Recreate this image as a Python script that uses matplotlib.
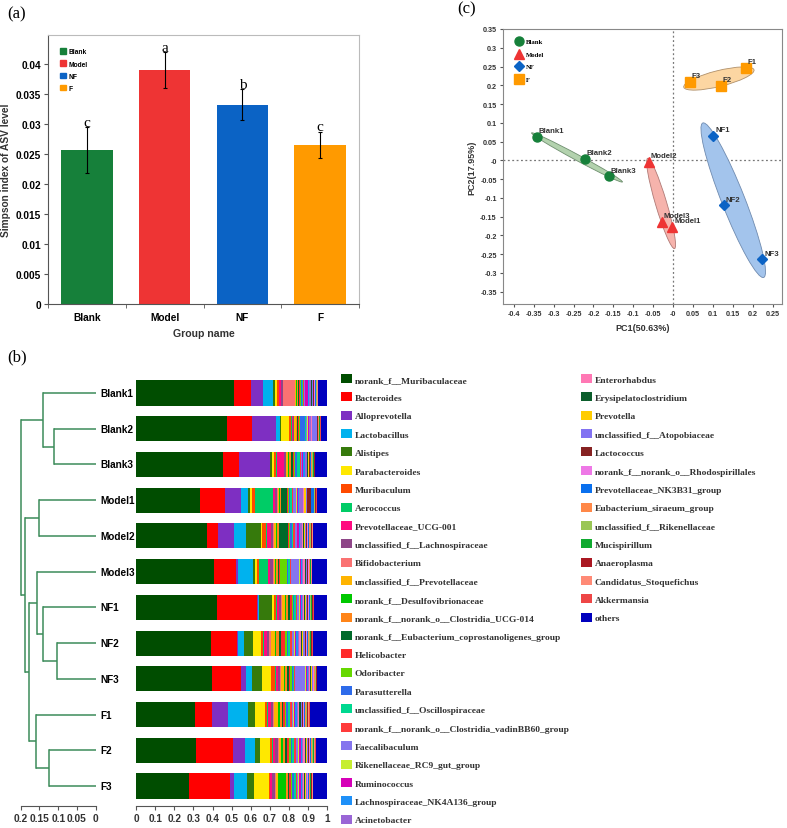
import numpy as np
import matplotlib
matplotlib.use("Agg")
import matplotlib.pyplot as plt
from matplotlib.patches import Ellipse, Patch
from matplotlib.lines import Line2D
from matplotlib.ticker import FuncFormatter
from matplotlib.font_manager import FontProperties

plt.rcParams['font.family'] = ['Liberation Sans', 'DejaVu Sans']
plt.rcParams['font.weight'] = 'bold'
plt.rcParams['axes.labelweight'] = 'bold'

# ---- (a) Simpson index ----
groups = ["Blank", "Model", "NF", "F"]
simpson = [0.0257, 0.0390, 0.0332, 0.0265]
simpson_err = [0.0038, 0.0030, 0.0026, 0.0022]
sig_letters = ["c", "a", "b", "c"]
group_colors = ["#16803A", "#EE3434", "#0B63C5", "#FF9A00"]

# ---- (c) PCoA ----
pc_names = ["Blank1", "Blank2", "Blank3", "Model1", "Model2", "Model3",
            "NF1", "NF2", "NF3", "F1", "F2", "F3"]
pc1 = [-0.341, -0.221, -0.162, -0.002, -0.060, -0.029,
       0.101, 0.127, 0.224, 0.183, 0.119, 0.042]
pc2 = [0.062, 0.004, -0.043, -0.177, -0.004, -0.164,
       0.065, -0.120, -0.264, 0.246, 0.199, 0.209]
pc_group = [0, 0, 0, 1, 1, 1, 2, 2, 2, 3, 3, 3]
pc_markers = ["o", "^", "D", "s"]
ell_fill = ["#B3D2AE", "#F6B3AC", "#A3C4EC", "#FCD6A2"]
ell_edge = ["#6F8F6F", "#B07A76", "#6F8BB0", "#B0906A"]

# ---- (b) community barplot + tree ----
sample_names = ["Blank1", "Blank2", "Blank3", "Model1", "Model2", "Model3",
                "NF1", "NF2", "NF3", "F1", "F2", "F3"]
taxa = ["norank_f__Muribaculaceae", "Bacteroides", "Alloprevotella", "Lactobacillus",
        "Alistipes", "Parabacteroides", "Muribaculum", "Aerococcus",
        "Prevotellaceae_UCG-001", "unclassified_f__Lachnospiraceae", "Bifidobacterium",
        "unclassified_f__Prevotellaceae", "norank_f__Desulfovibrionaceae",
        "norank_f__norank_o__Clostridia_UCG-014", "norank_f__Eubacterium_coprostanoligenes_group",
        "Helicobacter", "Odoribacter", "Parasutterella", "unclassified_f__Oscillospiraceae",
        "norank_f__norank_o__Clostridia_vadinBB60_group", "Faecalibaculum",
        "Rikenellaceae_RC9_gut_group", "Ruminococcus", "Lachnospiraceae_NK4A136_group",
        "Acinetobacter", "Enterorhabdus", "Erysipelatoclostridium", "Prevotella",
        "unclassified_f__Atopobiaceae", "Lactococcus", "norank_f__norank_o__Rhodospirillales",
        "Prevotellaceae_NK3B31_group", "Eubacterium_siraeum_group",
        "unclassified_f__Rikenellaceae", "Mucispirillum", "Anaeroplasma",
        "Candidatus_Stoquefichus", "Akkermansia", "others"]
taxa_colors = ["#004D00", "#FF0000", "#7E2FC2", "#00B2EE", "#367A0C", "#FFE800",
               "#FF4A00", "#00CC66", "#FF0A80", "#8E4688", "#FA7272", "#FFB400",
               "#00C800", "#FF8418", "#006A2A", "#FF2B2B", "#66D800", "#2E6BEA",
               "#00D890", "#FF3B3B", "#8575EE", "#C6EE30", "#D600B8", "#1E90F8",
               "#9A66D6", "#FF78B4", "#0B5E2C", "#FFCC00", "#8272F2", "#862222",
               "#EE78E6", "#0A70EE", "#FF8848", "#9AC656", "#10AA30", "#AA1822",
               "#FF8A76", "#EE4646", "#0000BE"]

blank1 = [0.510, 0.090, 0.060, 0.057, 0.010, 0.010, 0.007, 0.003, 0.010, 0.010, 0.060, 0.010,
          0.004, 0.006, 0.005, 0.004, 0.003, 0.008, 0.003, 0.004, 0.006, 0.002, 0.015, 0.004,
          0.010, 0.003, 0.002, 0.004, 0.006, 0.003, 0.004, 0.005, 0.002, 0.002, 0.002, 0.002,
          0.002, 0.003, 0.047]
blank2 = [0.486, 0.130, 0.130, 0.022, 0.005, 0.043, 0.010, 0.004, 0.006, 0.005, 0.004, 0.006,
          0.003, 0.006, 0.005, 0.004, 0.003, 0.030, 0.004, 0.003, 0.005, 0.002, 0.004, 0.004,
          0.008, 0.004, 0.002, 0.003, 0.025, 0.002, 0.002, 0.003, 0.002, 0.002, 0.002, 0.002,
          0.002, 0.002, 0.035]
blank3 = [0.460, 0.088, 0.162, 0.005, 0.010, 0.010, 0.010, 0.005, 0.035, 0.010, 0.005, 0.008,
          0.006, 0.010, 0.008, 0.010, 0.005, 0.008, 0.015, 0.005, 0.005, 0.003, 0.006, 0.012,
          0.006, 0.004, 0.003, 0.004, 0.004, 0.002, 0.003, 0.006, 0.004, 0.006, 0.004, 0.002,
          0.002, 0.002, 0.064]
model1 = [0.328, 0.130, 0.083, 0.035, 0.008, 0.010, 0.015, 0.093, 0.010, 0.010, 0.004, 0.006,
          0.005, 0.008, 0.030, 0.006, 0.005, 0.006, 0.006, 0.005, 0.020, 0.003, 0.004, 0.005,
          0.020, 0.004, 0.003, 0.010, 0.004, 0.020, 0.003, 0.012, 0.003, 0.003, 0.003, 0.002,
          0.002, 0.002, 0.055]
model2 = [0.362, 0.057, 0.081, 0.060, 0.078, 0.008, 0.017, 0.005, 0.020, 0.010, 0.006, 0.010,
          0.006, 0.012, 0.043, 0.008, 0.006, 0.008, 0.008, 0.006, 0.010, 0.004, 0.008, 0.006,
          0.008, 0.006, 0.004, 0.008, 0.006, 0.004, 0.004, 0.004, 0.006, 0.004, 0.004, 0.003,
          0.003, 0.003, 0.072]
model3 = [0.400, 0.117, 0.010, 0.074, 0.010, 0.015, 0.010, 0.043, 0.010, 0.015, 0.006, 0.008,
          0.006, 0.008, 0.006, 0.006, 0.035, 0.006, 0.008, 0.005, 0.043, 0.004, 0.005, 0.005,
          0.006, 0.010, 0.003, 0.004, 0.005, 0.004, 0.003, 0.003, 0.003, 0.003, 0.003, 0.002,
          0.002, 0.002, 0.078]
nf1 = [0.426, 0.212, 0.005, 0.010, 0.064, 0.015, 0.010, 0.006, 0.010, 0.010, 0.006, 0.012,
       0.008, 0.012, 0.008, 0.010, 0.006, 0.008, 0.008, 0.008, 0.008, 0.005, 0.006, 0.006,
       0.005, 0.005, 0.004, 0.006, 0.006, 0.004, 0.006, 0.004, 0.004, 0.004, 0.004, 0.003,
       0.003, 0.003, 0.072]
nf2 = [0.383, 0.134, 0.005, 0.030, 0.047, 0.040, 0.010, 0.006, 0.015, 0.012, 0.010, 0.020,
       0.008, 0.015, 0.010, 0.020, 0.008, 0.008, 0.008, 0.012, 0.008, 0.006, 0.008, 0.008,
       0.006, 0.008, 0.005, 0.008, 0.008, 0.005, 0.006, 0.005, 0.006, 0.005, 0.004, 0.004,
       0.004, 0.004, 0.072]
nf3 = [0.397, 0.150, 0.028, 0.030, 0.052, 0.048, 0.020, 0.006, 0.010, 0.008, 0.008, 0.015,
       0.006, 0.010, 0.008, 0.010, 0.006, 0.006, 0.008, 0.006, 0.052, 0.004, 0.005, 0.005,
       0.005, 0.004, 0.006, 0.004, 0.004, 0.003, 0.003, 0.004, 0.003, 0.003, 0.003, 0.002,
       0.002, 0.002, 0.052]
f1 = [0.305, 0.086, 0.086, 0.100, 0.038, 0.052, 0.010, 0.005, 0.015, 0.010, 0.005, 0.020,
      0.012, 0.010, 0.006, 0.008, 0.010, 0.008, 0.010, 0.008, 0.006, 0.008, 0.006, 0.008,
      0.006, 0.005, 0.008, 0.004, 0.004, 0.004, 0.004, 0.008, 0.004, 0.004, 0.003, 0.003,
      0.003, 0.006, 0.091]
f2 = [0.314, 0.191, 0.064, 0.052, 0.026, 0.052, 0.010, 0.006, 0.010, 0.015, 0.006, 0.010,
      0.010, 0.010, 0.008, 0.010, 0.012, 0.008, 0.010, 0.010, 0.008, 0.008, 0.008, 0.008,
      0.006, 0.006, 0.006, 0.008, 0.006, 0.004, 0.004, 0.006, 0.006, 0.004, 0.004, 0.003,
      0.003, 0.004, 0.060]
f3 = [0.276, 0.219, 0.019, 0.070, 0.033, 0.078, 0.005, 0.005, 0.006, 0.020, 0.005, 0.008,
      0.045, 0.008, 0.006, 0.008, 0.008, 0.008, 0.010, 0.006, 0.008, 0.006, 0.006, 0.008,
      0.005, 0.005, 0.005, 0.004, 0.004, 0.004, 0.004, 0.004, 0.004, 0.004, 0.006, 0.003,
      0.003, 0.003, 0.074]

# hierarchical clustering: (child a, child b, height); ids >= 12 are earlier merges
tree_merges = [(1, 2, 0.111), (0, 12, 0.140), (3, 4, 0.150), (7, 8, 0.102),
               (6, 15, 0.141), (5, 16, 0.157), (10, 11, 0.124), (9, 18, 0.159),
               (17, 19, 0.177), (14, 20, 0.188), (13, 21, 0.200)]
tree_ticks = [0.2, 0.15, 0.1, 0.05, 0]

W, H = 787, 829
fig = plt.figure(figsize=(W / 100, H / 100), dpi=100)


def fbox(x0, y0, x1, y1):
    # pixel box -> figure fraction
    return [x0 / W, 1 - y1 / H, (x1 - x0) / W, (y1 - y0) / H]


gfmt = FuncFormatter(lambda v, p: "%g" % round(v, 4))

# ================= (a) =================
axa = fig.add_axes(fbox(48, 36, 359, 305))
xs = np.arange(len(groups))
axa.bar(xs, simpson, width=0.66, color=group_colors, zorder=2)
axa.errorbar(xs, simpson, yerr=simpson_err, fmt="none", ecolor="black",
             elinewidth=0.8, capsize=1.5, capthick=0.8, zorder=3)
for x, v, e, s in zip(xs, simpson, simpson_err, sig_letters):
    axa.text(x, v + e - 0.0003, s, ha="center", va="bottom", fontsize=11,
             family="Liberation Serif", fontweight="normal")
axa.set_xlim(-0.5, 3.5)
axa.set_ylim(0, 0.0448)
axa.set_yticks(np.arange(0, 0.0401, 0.005))
axa.yaxis.set_major_formatter(gfmt)
axa.set_xticks(xs)
axa.set_xticklabels(groups)
axa.set_xticks(np.arange(-0.5, 3.6, 1), minor=True)
axa.tick_params(axis="x", which="major", length=0, labelsize=7.3, pad=6)
axa.tick_params(axis="x", which="minor", length=3, color="#555555")
axa.tick_params(axis="y", length=3, labelsize=7.3, color="#555555", pad=2)
for s in ["top", "right"]:
    axa.spines[s].set_color("#BBBBBB")
for s in ["left", "bottom"]:
    axa.spines[s].set_color("#555555")
axa.set_ylabel("Simpson index of ASV level", fontsize=7.3, color="#333333")
axa.yaxis.set_label_coords(-0.118, 0.5)
axa.set_xlabel("Group name", fontsize=7.6, color="#333333", labelpad=4)
lh = [Patch(color=c) for c in group_colors]
axa.legend(lh, groups, loc="upper left", frameon=False, fontsize=4.8,
           handlelength=0.9, handleheight=0.9, handletextpad=0.4,
           labelspacing=0.75, bbox_to_anchor=(0.03, 0.96), borderaxespad=0)
fig.text(7 / W, 1 - 14 / H, "(a)", fontsize=12, family="Liberation Serif",
         fontweight="normal", va="center")

# ================= (c) =================
axc = fig.add_axes(fbox(503, 30, 782, 305))
axc.axhline(0, color="#777777", ls=(0, (1.5, 2)), lw=0.9, zorder=1)
axc.axvline(0, color="#777777", ls=(0, (1.5, 2)), lw=0.9, zorder=1)
p1 = np.array(pc1)
p2 = np.array(pc2)
gid = np.array(pc_group)
k_ell = 1.25
for g in range(4):
    x = p1[gid == g]
    y = p2[gid == g]
    cov = np.cov(x, y)
    vals, vecs = np.linalg.eigh(cov)
    order = vals.argsort()[::-1]
    vals, vecs = vals[order], vecs[:, order]
    ang = np.degrees(np.arctan2(vecs[1, 0], vecs[0, 0]))
    ell = Ellipse((x.mean(), y.mean()), 2 * k_ell * np.sqrt(vals[0]),
                  2 * k_ell * np.sqrt(vals[1]), angle=ang,
                  facecolor=ell_fill[g], edgecolor=ell_edge[g], lw=0.6, zorder=2)
    axc.add_patch(ell)
for g in range(4):
    axc.plot(p1[gid == g], p2[gid == g], ls="none", marker=pc_markers[g],
             ms=6.5 if g != 2 else 5.5, color=group_colors[g], zorder=4)
for n, x, y in zip(pc_names, pc1, pc2):
    axc.annotate(n, (x, y), xytext=(1.2, 4.5), textcoords="offset points",
                 fontsize=5.6, color="#333333", va="center", ha="left", zorder=5)
axc.set_xlim(-0.427, 0.273)
axc.set_ylim(-0.383, 0.35)
axc.set_xticks(np.arange(-0.4, 0.26, 0.05))
axc.set_yticks(np.arange(-0.35, 0.351, 0.05))
axc.xaxis.set_major_formatter(gfmt)
axc.yaxis.set_major_formatter(gfmt)
axc.tick_params(length=2.5, labelsize=5.2, color="#555555", labelcolor="#333333", pad=2)
for s in axc.spines.values():
    s.set_color("#888888")
axc.set_xlabel("PC1(50.63%)", fontsize=6.5, color="#333333", labelpad=4)
axc.set_ylabel("PC2(17.95%)", fontsize=6.5, color="#333333", labelpad=3)
ch = [Line2D([], [], ls="none", marker=pc_markers[g], ms=6.5 if g != 2 else 5.5,
             color=group_colors[g]) for g in range(4)]
axc.legend(ch, groups, loc="upper left", frameon=False,
           prop=FontProperties(family="Liberation Serif", weight="bold", size=4.9),
           handlelength=1.0, handletextpad=0.5, labelspacing=1.0,
           bbox_to_anchor=(0.035, 0.975), borderaxespad=0)
fig.text(457 / W, 1 - 9 / H, "(c)", fontsize=12, family="Liberation Serif",
         fontweight="normal", va="center")

# ================= (b) tree =================
n = len(sample_names)
row_px = 35.73
y_top = 394 - 0.5 * row_px
y_bot = 807
ylim_b = (n - 1 + (y_bot - 787) / row_px, -0.5)
axd = fig.add_axes(fbox(20.7, y_top, 95.7, y_bot))
tree_col = "#3C8C5A"
pos = {i: float(i) for i in range(n)}
hgt = {i: 0.0 for i in range(n)}
for k, (a, b, h) in enumerate(tree_merges):
    for c in (a, b):
        axd.plot([hgt[c], h], [pos[c], pos[c]], color=tree_col, lw=1.1,
                 solid_capstyle="butt", clip_on=False)
    axd.plot([h, h], [pos[a], pos[b]], color=tree_col, lw=1.1, clip_on=False)
    pos[n + k] = (pos[a] + pos[b]) / 2
    hgt[n + k] = h
for i, s in enumerate(sample_names):
    axd.text(-0.0115, i, s, ha="left", va="center", fontsize=7.2, clip_on=False)
axd.set_xlim(0.2, 0)
axd.set_ylim(*ylim_b)
axd.set_xticks(tree_ticks)
axd.xaxis.set_major_formatter(gfmt)
axd.set_yticks([])
for s in ["top", "right", "left"]:
    axd.spines[s].set_visible(False)
axd.spines["bottom"].set_color("#555555")
axd.tick_params(axis="x", length=3, labelsize=7.4, color="#555555",
                labelcolor="#333333", pad=2)

# ================= (b) bars =================
axb = fig.add_axes(fbox(136, y_top, 327.3, y_bot))
abund = np.array([blank1, blank2, blank3, model1, model2, model3,
                  nf1, nf2, nf3, f1, f2, f3])
abund = abund / abund.sum(axis=1, keepdims=True)
left = np.zeros(n)
handles = []
for j, t in enumerate(taxa):
    bc = axb.barh(np.arange(n), abund[:, j], left=left, height=0.7,
                  color=taxa_colors[j], label=t, lw=0)
    handles.append(bc)
    left += abund[:, j]
axb.set_xlim(0, 1)
axb.set_ylim(*ylim_b)
axb.set_yticks([])
axb.set_xticks(np.arange(0, 1.01, 0.1))
axb.xaxis.set_major_formatter(gfmt)
for s in ["top", "right", "left"]:
    axb.spines[s].set_visible(False)
axb.spines["bottom"].set_color("#555555")
axb.tick_params(axis="x", length=3, labelsize=7.2, color="#555555",
                labelcolor="#333333", pad=2)
fig.text(7 / W, 1 - 357 / H, "(b)", fontsize=12, family="Liberation Serif",
         fontweight="normal", va="center")

leg_font = FontProperties(family="Liberation Serif", weight="bold", size=6.8)
leg_kw = dict(loc="upper left", frameon=False, prop=leg_font, borderaxespad=0,
              borderpad=0, handlelength=1.13, handleheight=1.09,
              handletextpad=0.35, labelspacing=0.915)
fig.legend(handles[:25], taxa[:25], bbox_to_anchor=(341 / W, 1 - 375 / H),
           labelcolor="#333333", **leg_kw)
fig.legend(handles[25:], taxa[25:], bbox_to_anchor=(581 / W, 1 - 375 / H),
           labelcolor="#333333", **leg_kw)

fig.savefig("out.png", dpi=100)
